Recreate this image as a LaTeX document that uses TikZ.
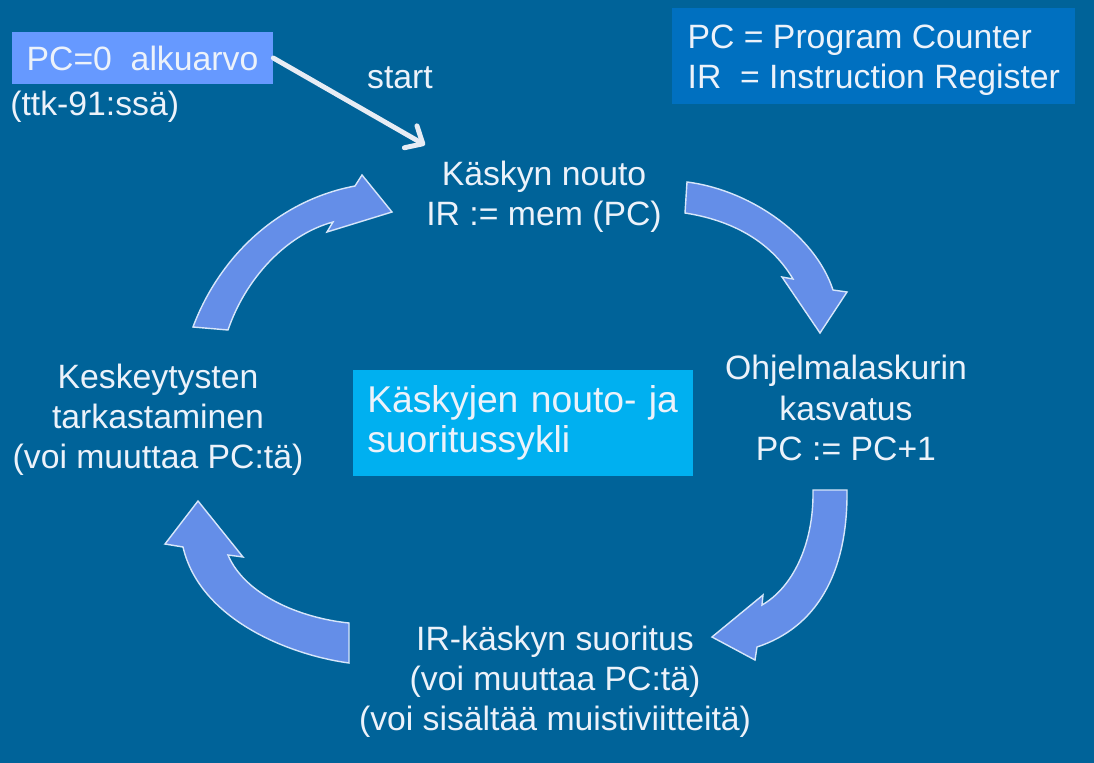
\documentclass[tikz,border=0pt]{standalone}
\usepackage{fontspec}
\setmainfont{Liberation Sans}
\usetikzlibrary{arrows.meta,positioning}
\definecolor{slidebg}{RGB}{0,99,153}
\definecolor{cyclefill}{RGB}{100,142,232}
\definecolor{cycleedge}{RGB}{215,230,250}
\definecolor{initfill}{RGB}{102,153,255}
\definecolor{legendfill}{RGB}{0,112,192}
\definecolor{titlefill}{RGB}{0,176,240}
\definecolor{slidetext}{RGB}{236,242,250}

\begin{document}
\begin{tikzpicture}[x=0.025cm,y=-0.025cm,
  stagetext/.style={align=center,text=slidetext,inner sep=0pt,
    font=\fontsize{24}{28.5}\selectfont},
  initbox/.style={fill=initfill,text=slidetext,minimum width=6.525cm,
    minimum height=1.3cm,inner sep=0pt,font=\fontsize{24}{28.5}\selectfont},
  legendbox/.style={fill=legendfill,text=slidetext,align=left,anchor=north west,
    minimum width=10.075cm,inner sep=0pt,minimum height=2.4cm,text depth=0pt,
    font=\fontsize{24}{28.5}\selectfont},
  titlebox/.style={fill=titlefill,text=slidetext,align=left,anchor=north west,
    text width=7.8cm,inner xsep=0.35cm,minimum height=2.65cm,
    font=\fontsize{26.5}{28.5}\selectfont},
  cyclearrow/.style={fill=cyclefill,draw=cycleedge,line width=1pt},
  startflow/.style={-{Straight Barb[length=10pt,width=18pt,round]},
    draw=slidetext!95!gray,line width=3.5pt,line cap=round}
]
\useasboundingbox (0,0) rectangle (1094,763);
\fill[slidebg] (0,0) rectangle (1094,763);

\node[initbox] (pcinit) at (142.5,58) {PC=0\ \ alkuarvo};
\node[stagetext,anchor=west] (ttk) at (10,107) {(ttk-91:ssä)};
\node[stagetext] (start) at (400,78) {start};
\node[legendbox] (legend) at (672,8) {PC = Program Counter\\
  IR\ \ = Instruction Register};
\node[titlebox] (title) at (353,370) {Käskyjen nouto- ja\\suoritussykli};

\node[stagetext] (fetch) at (544,197) {Käskyn nouto\\IR := mem (PC)};
\node[stagetext] (incr) at (846,408) {Ohjelmalaskurin\\kasvatus\\PC := PC+1};
\node[stagetext] (exec) at (555,682) {IR-käskyn suoritus\\(voi muuttaa PC:tä)\\
  (voi sisältää muistiviitteitä)};
\node[stagetext] (intr) at (158,420) {Keskeytysten\\tarkastaminen\\
  (voi muuttaa PC:tä)};

\coordinate (fetchin) at (425,145);
\draw[startflow] (pcinit.east) -- (fetchin);

\draw[cyclearrow] (193,327) .. controls (220,255) and (280,200) .. (355,186)
  -- (362,175) -- (392,212) -- (327,232) -- (333,222)
  .. controls (285,235) and (245,280) .. (228,330) -- cycle;
\draw[cyclearrow] (687,182) .. controls (750,190) and (815,235) .. (833,290)
  -- (847,292) -- (820,333) -- (782,277) -- (793,279)
  .. controls (770,240) and (730,220) .. (685,213) -- cycle;
\draw[cyclearrow] (847,490) .. controls (848,575) and (815,628) .. (757,647)
  -- (755,660) -- (712,637) -- (763,595) -- (762,605)
  .. controls (792,588) and (814,545) .. (813,490) -- cycle;
\draw[cyclearrow] (349,663) .. controls (290,655) and (200,620) .. (183,547)
  -- (165,544) -- (198,501) -- (243,557) -- (228,555)
  .. controls (245,595) and (300,618) .. (349,623) -- cycle;
\end{tikzpicture}
\end{document}
